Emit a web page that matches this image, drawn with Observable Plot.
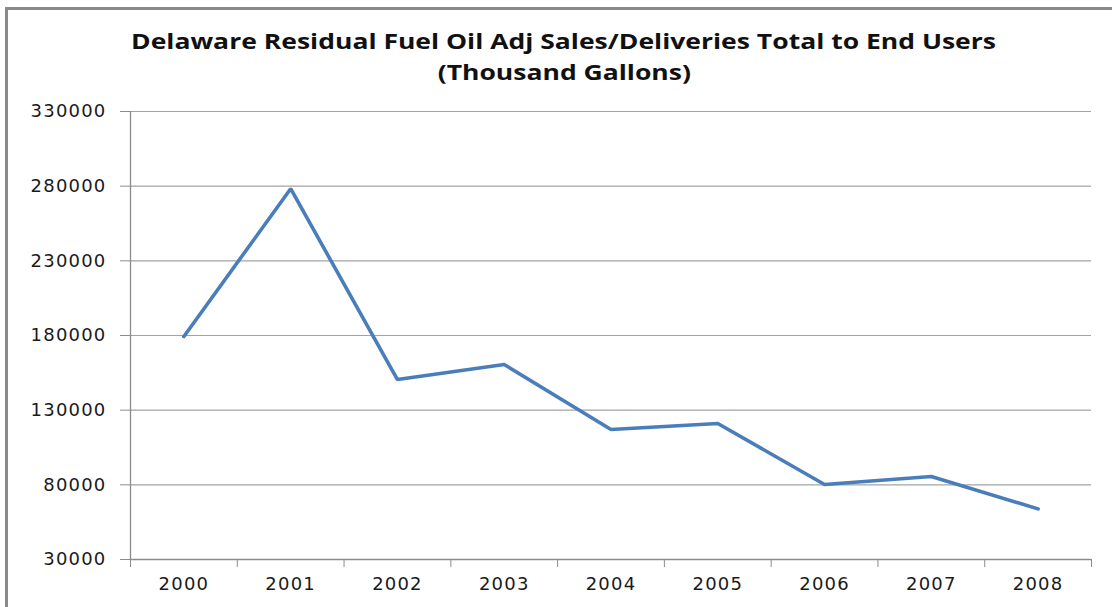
<!DOCTYPE html>
<html>
<head>
<meta charset="utf-8">
<script src="https://cdn.jsdelivr.net/npm/d3@7"></script>
<script src="https://cdn.jsdelivr.net/npm/@observablehq/plot@0.6"></script>
<style>
  html, body { margin: 0; padding: 0; background: #fff; }
  body { width: 1112px; height: 607px; overflow: hidden; position: relative; }
  #frame { position: absolute; left: 5px; top: 7px; width: 1200px; height: 700px;
           border-left: 3px solid #8a8a8a; border-top: 3px solid #8a8a8a; }
  #title { position: absolute; top: 26px; left: 8px; width: 1112px; text-align: center;
           font-family: "Open Sans", sans-serif; font-weight: bold; font-size: 21px;
           line-height: 31px; color: #111; }
  #title span { display: inline-block; white-space: nowrap; transform-origin: 50% 50%; }
  #chart { position: absolute; top: 90px; left: 0; }
</style>
</head>
<body>
<div id="frame"></div>
<div id="title">
  <div><span id="t1">Delaware Residual Fuel Oil Adj Sales/Deliveries Total to End Users</span></div>
  <div><span id="t2">(Thousand  Gallons)</span></div>
</div>
<div id="chart"></div>
<script>
const years = [2000, 2001, 2002, 2003, 2004, 2005, 2006, 2007, 2008];
const sales = [179300, 278300, 150500, 160600, 117100, 121100, 80200, 85600, 63900];
const yTicks = [30000, 80000, 130000, 180000, 230000, 280000, 330000];
const yDomain = [30000, 330000];

const table = years.map((yr, i) => ({year: yr, value: sales[i]}));
const xDomain = [years[0] - 0.5, years[years.length - 1] + 0.5];
const edges = years.map(d => d - 0.5).concat([years[years.length - 1] + 0.5]);

const axisGray = "#8c8c8c";
const gridGray = "#a3a3a3";

const chart = Plot.plot({
  width: 1112,
  height: 517,
  marginTop: 21,
  marginBottom: 48,
  marginLeft: 130,
  marginRight: 21,
  style: { fontFamily: "DejaVu Sans, sans-serif", fontSize: "18px", color: "#1a1a1a", background: "transparent", letterSpacing: "1.2px" },
  x: { type: "linear", domain: xDomain, label: null },
  y: { domain: yDomain, label: null },
  marks: [
    Plot.gridY(yTicks, { stroke: gridGray, strokeOpacity: 1, strokeWidth: 1.2 }),
    Plot.ruleX([xDomain[0]], { stroke: axisGray, strokeWidth: 1.3 }),
    Plot.ruleY([yDomain[0]], { stroke: axisGray, strokeWidth: 1.3 }),
    Plot.axisY(yTicks, { tickSize: 10, tickPadding: 14, stroke: axisGray, fill: "#1a1a1a", tickFormat: d => String(d), label: null }),
    Plot.axisX(edges, { tickSize: 8, stroke: axisGray, tickFormat: () => "", label: null }),
    Plot.axisX(years, { tickSize: 0, tickPadding: 18, fill: "#1a1a1a", tickFormat: d => String(d), label: null }),
    Plot.line(table, { x: "year", y: "value", stroke: "#4a7ebb", strokeWidth: 3.6, strokeLinejoin: "miter", strokeLinecap: "round" })
  ]
});
document.getElementById("chart").appendChild(chart);

// Fit the title width to the reference's stretched heading
const t1 = document.getElementById("t1");
const t2 = document.getElementById("t2");
const w = t1.getBoundingClientRect().width;
const s = 865 / w;
t1.style.transform = `scaleX(${s})`;
t2.style.transform = `scaleX(${s})`;
</script>
</body>
</html>
